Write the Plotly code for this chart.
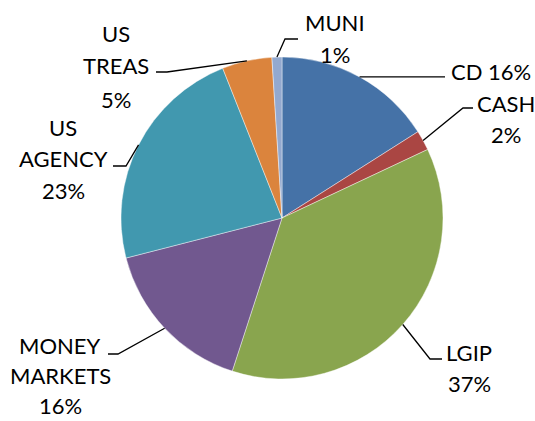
import math
import plotly.graph_objects as go

# ---- data ----
labels = ["CD", "CASH", "LGIP", "MONEY MARKETS", "US AGENCY", "US TREAS", "MUNI"]
values = [16, 2, 37, 16, 23, 5, 1]
colors = ["#4572A7", "#AA4643", "#89A54E", "#71588F", "#4198AF", "#DB843D", "#93A9CF"]
# how each label is broken into lines (percent line appended from values)
label_lines = [["CD"], ["CASH"], ["LGIP"], ["MONEY", "MARKETS"], ["US", "AGENCY"], ["US", "TREAS"], ["MUNI"]]

# ---- layout constants (pixels) ----
W, H = 535, 421
CX, CY, R = 282, 218, 161
FONT = "Lato, Calibri, Carlito, sans-serif"
FS = 22
# label anchor: (x, first line y, xanchor, percent on same line?, line spacing)
label_pos = [
    (449, 71, "left", True, 32),
    (506, 103, "center", False, 32),
    (469, 352, "center", False, 31),
    (60, 345, "center", False, 30),
    (63, 127, "center", False, 32),
    (116, 33, "center", False, 33),
    (335, 23, "center", False, 32),
]
# leader line elbow and end points
leader_pts = [
    (None, (445, None)),
    ((463, 108), (473, 108)),
    ((430, 359), (442, 359)),
    ((118, 354), (108, 354)),
    ((126, 166), (113, 166)),
    ((167, 72), (156, 72)),
    ((285, 39), (298, 39)),
]


def px(x):
    return x / W


def py(y):
    return 1 - y / H


fig = go.Figure(go.Pie(
    labels=labels,
    values=values,
    sort=False,
    direction="clockwise",
    rotation=0,
    textinfo="none",
    hoverinfo="label+percent",
    marker=dict(colors=colors, line=dict(color="rgba(255,255,255,0.6)", width=0.7)),
    domain=dict(x=[px(CX - R), px(CX + R)], y=[py(CY + R), py(CY - R)]),
))

total = sum(values)
annotations = []
shapes = []
cum = 0
for i, v in enumerate(values):
    mid = (cum + v / 2) / total * 2 * math.pi
    cum += v
    sx = CX + R * math.sin(mid)
    sy = CY - R * math.cos(mid)
    elbow, end = leader_pts[i]
    ex, ey = end
    if ey is None:
        ey = sy
    pts = [(sx, sy)]
    if elbow is not None:
        pts.append(elbow)
    pts.append((ex, ey))
    path = "M " + " L ".join(f"{px(a):.5f},{py(b):.5f}" for a, b in pts)
    shapes.append(dict(type="path", path=path, xref="paper", yref="paper",
                       line=dict(color="black", width=1.3)))

    x, y0, anchor, inline, spacing = label_pos[i]
    pct = f"{v}%"
    lines = list(label_lines[i])
    if inline:
        lines[-1] = lines[-1] + " " + pct
    else:
        lines.append(pct)
    for k, t in enumerate(lines):
        annotations.append(dict(
            text=t, x=px(x), y=py(y0 + k * spacing), xref="paper", yref="paper",
            xanchor=anchor, yanchor="middle", showarrow=False,
            font=dict(family=FONT, size=FS, color="black"),
        ))

fig.update_layout(
    width=W, height=H,
    margin=dict(l=0, r=0, t=0, b=0),
    paper_bgcolor="white",
    plot_bgcolor="white",
    showlegend=False,
    annotations=annotations,
    shapes=shapes,
)

fig.write_html("out.html")
